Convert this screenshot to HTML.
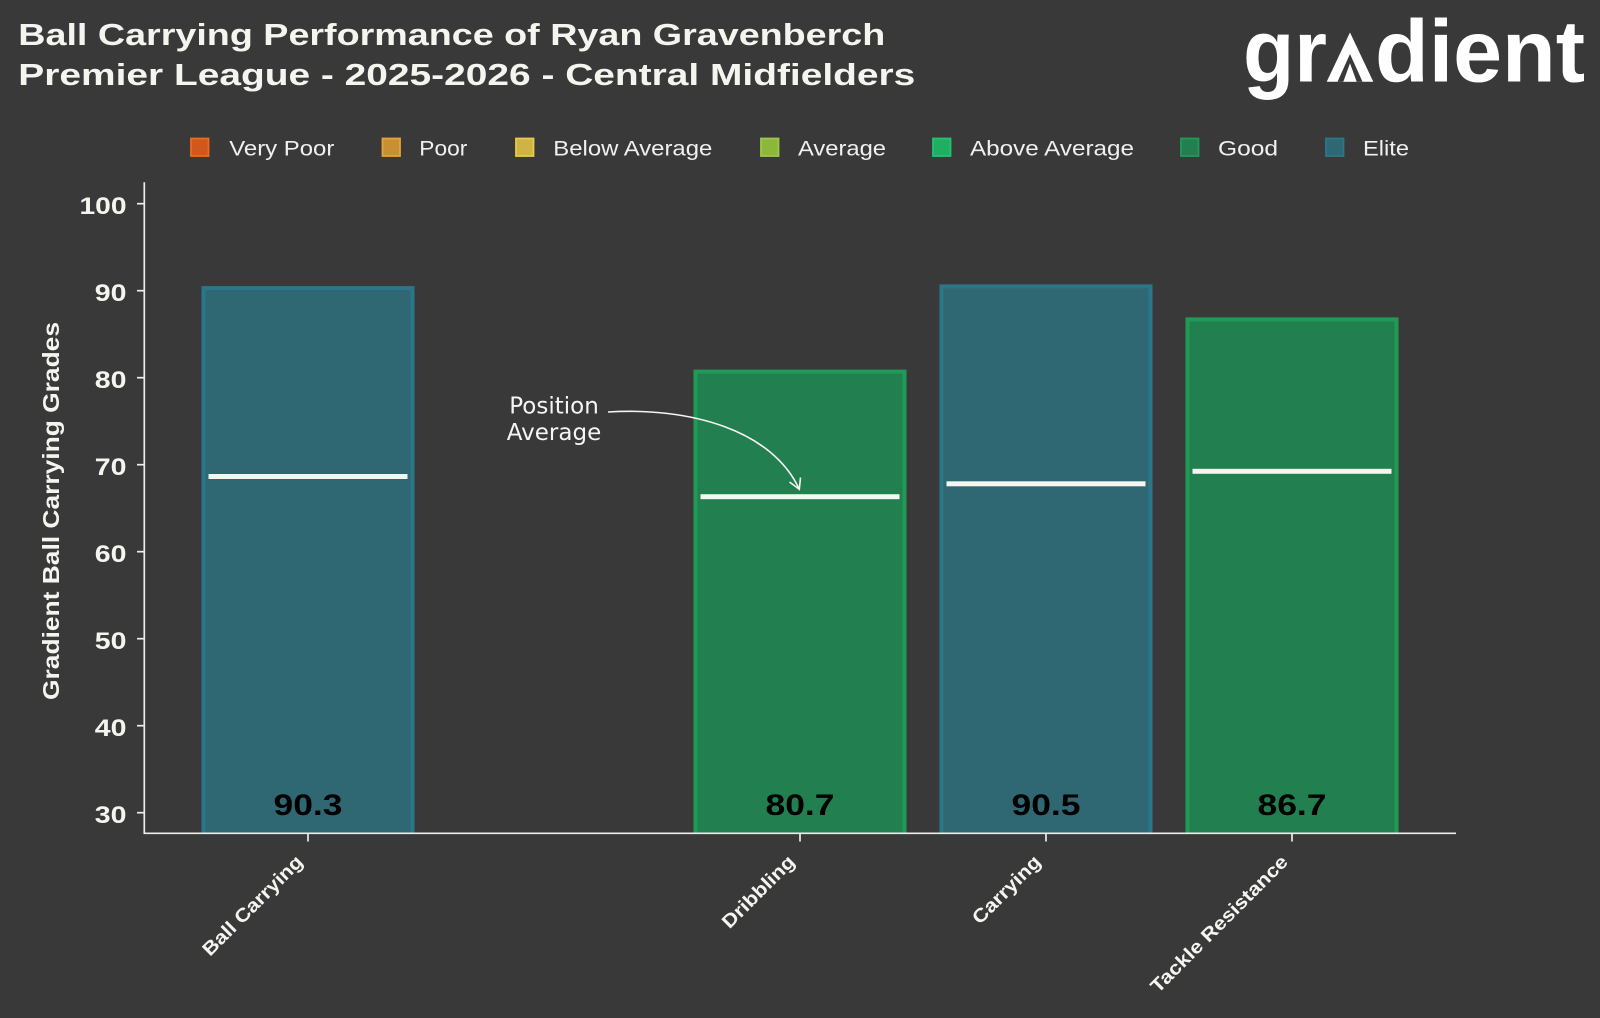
<!DOCTYPE html>
<html>
<head>
<meta charset="utf-8">
<style>
  html,body{margin:0;padding:0;background:#393939;}
  svg{display:block;}
</style>
</head>
<body>
<svg width="1600" height="1018" viewBox="0 0 1600 1018" xmlns="http://www.w3.org/2000/svg">
  <defs>
    <clipPath id="ax">
      <rect x="144" y="150" width="1312" height="683.3"/>
    </clipPath>
  </defs>
  <rect x="0" y="0" width="1600" height="1018" fill="#393939"/>

  <!-- Title -->
  <g font-family="'Liberation Sans', sans-serif" font-weight="bold" fill="#f5f5f0" font-size="30.5">
    <text x="18.3" y="45" textLength="867" lengthAdjust="spacingAndGlyphs">Ball Carrying Performance of Ryan Gravenberch</text>
    <text x="18.3" y="85" textLength="897" lengthAdjust="spacingAndGlyphs">Premier League - 2025-2026 - Central Midfielders</text>
  </g>

  <!-- Logo -->
  <g font-family="'Liberation Sans', sans-serif" font-weight="bold" fill="#ffffff" font-size="88">
    <text x="1243" y="81.7" textLength="84" lengthAdjust="spacingAndGlyphs">gr</text>
    <text x="1375" y="81.7" textLength="210" lengthAdjust="spacing">dient</text>
  </g>
  <polygon points="1326.7,81.7 1350,32.5 1373.3,81.7" fill="#ffffff"/>
  <polygon points="1337.5,81.7 1350,54 1362.5,81.7" fill="#393939"/>
  <polygon points="1343.3,81.7 1350,63.3 1356.7,81.7" fill="#ffffff"/>

  <!-- Legend -->
  <g font-family="'Liberation Sans', sans-serif" font-size="21" fill="#f0f0f0">
    <rect x="191" y="138.5" width="17.5" height="17.5" fill="#d0581c" stroke="#f06a18" stroke-width="1.8"/>
    <text x="229.3" y="155.3" textLength="105" lengthAdjust="spacingAndGlyphs">Very Poor</text>
    <rect x="382.5" y="138.5" width="17.5" height="17.5" fill="#c98f33" stroke="#e8a23a" stroke-width="1.8"/>
    <text x="419.3" y="155.3" textLength="48" lengthAdjust="spacingAndGlyphs">Poor</text>
    <rect x="516" y="138.5" width="17.5" height="17.5" fill="#cdb444" stroke="#ecc94a" stroke-width="1.8"/>
    <text x="553.3" y="155.3" textLength="159" lengthAdjust="spacingAndGlyphs">Below Average</text>
    <rect x="761" y="138.5" width="17.5" height="17.5" fill="#8db63c" stroke="#9dc843" stroke-width="1.8"/>
    <text x="798" y="155.3" textLength="88" lengthAdjust="spacingAndGlyphs">Average</text>
    <rect x="933" y="138.5" width="17.5" height="17.5" fill="#1fae62" stroke="#23c271" stroke-width="1.8"/>
    <text x="970" y="155.3" textLength="164" lengthAdjust="spacingAndGlyphs">Above Average</text>
    <rect x="1181" y="138.5" width="17.5" height="17.5" fill="#227f4f" stroke="#1f9b57" stroke-width="1.8"/>
    <text x="1218" y="155.3" textLength="60" lengthAdjust="spacingAndGlyphs">Good</text>
    <rect x="1326" y="138.5" width="17.5" height="17.5" fill="#2f6773" stroke="#2c7689" stroke-width="1.8"/>
    <text x="1363" y="155.3" textLength="46" lengthAdjust="spacingAndGlyphs">Elite</text>
  </g>

  <!-- Bars -->
  <g clip-path="url(#ax)">
    <rect x="203.5" y="288.1" width="209" height="560" fill="#2f6773" stroke="#2c7689" stroke-width="4"/>
    <rect x="695.5" y="371.6" width="209" height="480" fill="#227f4f" stroke="#1f9b57" stroke-width="4"/>
    <rect x="941.5" y="286.4" width="209" height="560" fill="#2f6773" stroke="#2c7689" stroke-width="4"/>
    <rect x="1187.5" y="319.4" width="209" height="530" fill="#227f4f" stroke="#1f9b57" stroke-width="4"/>
  </g>

  <!-- Average lines -->
  <g fill="#f4f6f0">
    <rect x="208.5" y="474" width="199" height="5"/>
    <rect x="700.5" y="494.2" width="199" height="5"/>
    <rect x="946.5" y="481.3" width="199" height="5"/>
    <rect x="1192.5" y="468.8" width="199" height="5"/>
  </g>

  <!-- Value labels -->
  <g font-family="'Liberation Sans', sans-serif" font-weight="bold" font-size="30" fill="#000000" text-anchor="middle">
    <text x="308" y="815" textLength="69" lengthAdjust="spacingAndGlyphs">90.3</text>
    <text x="800" y="815" textLength="69" lengthAdjust="spacingAndGlyphs">80.7</text>
    <text x="1046" y="815" textLength="69" lengthAdjust="spacingAndGlyphs">90.5</text>
    <text x="1292" y="815" textLength="69" lengthAdjust="spacingAndGlyphs">86.7</text>
  </g>

  <!-- Annotation -->
  <g font-family="'DejaVu Sans', 'Liberation Sans', sans-serif" font-size="23" fill="#f5f5f5" text-anchor="middle">
    <text x="554" y="413.3">Position</text>
    <text x="554" y="440">Average</text>
  </g>
  <path d="M608,412 C690,407 772,430 799.3,489.3" fill="none" stroke="#f5f5f5" stroke-width="1.6"/>
  <path d="M789.5,482 L799.3,489.3 L800.5,477.5" fill="none" stroke="#f5f5f5" stroke-width="1.6"/>

  <!-- Axes -->
  <g stroke="#ececec" stroke-width="1.7" fill="none">
    <line x1="144.3" y1="182.3" x2="144.3" y2="834"/>
    <line x1="143.5" y1="833.3" x2="1456" y2="833.3"/>
    <line x1="137" y1="203.7" x2="144.3" y2="203.7"/>
    <line x1="137" y1="290.7" x2="144.3" y2="290.7"/>
    <line x1="137" y1="377.7" x2="144.3" y2="377.7"/>
    <line x1="137" y1="464.7" x2="144.3" y2="464.7"/>
    <line x1="137" y1="551.7" x2="144.3" y2="551.7"/>
    <line x1="137" y1="638.7" x2="144.3" y2="638.7"/>
    <line x1="137" y1="725.7" x2="144.3" y2="725.7"/>
    <line x1="137" y1="812.7" x2="144.3" y2="812.7"/>
    <line x1="308" y1="833.3" x2="308" y2="841.5"/>
    <line x1="800" y1="833.3" x2="800" y2="841.5"/>
    <line x1="1046" y1="833.3" x2="1046" y2="841.5"/>
    <line x1="1292" y1="833.3" x2="1292" y2="841.5"/>
  </g>

  <!-- Y tick labels -->
  <g font-family="'Liberation Sans', sans-serif" font-weight="bold" font-size="24" fill="#f5f5f0" text-anchor="end">
    <text x="126.5" y="214" textLength="47" lengthAdjust="spacingAndGlyphs">100</text>
    <text x="126.5" y="301" textLength="31.7" lengthAdjust="spacingAndGlyphs">90</text>
    <text x="126.5" y="388" textLength="31.7" lengthAdjust="spacingAndGlyphs">80</text>
    <text x="126.5" y="475" textLength="31.7" lengthAdjust="spacingAndGlyphs">70</text>
    <text x="126.5" y="562" textLength="31.7" lengthAdjust="spacingAndGlyphs">60</text>
    <text x="126.5" y="649" textLength="31.7" lengthAdjust="spacingAndGlyphs">50</text>
    <text x="126.5" y="736" textLength="31.7" lengthAdjust="spacingAndGlyphs">40</text>
    <text x="126.5" y="823" textLength="31.7" lengthAdjust="spacingAndGlyphs">30</text>
  </g>

  <!-- Y axis label -->
  <text transform="translate(58.8,511) rotate(-90)" font-family="'Liberation Sans', sans-serif" font-weight="bold" font-size="23.5" fill="#f5f5f0" text-anchor="middle" textLength="378" lengthAdjust="spacingAndGlyphs">Gradient Ball Carrying Grades</text>

  <!-- X tick labels -->
  <g font-family="'Liberation Sans', sans-serif" font-weight="bold" font-size="19" fill="#f5f5f0" text-anchor="end">
    <text transform="translate(304,863) rotate(-45)" textLength="133" lengthAdjust="spacingAndGlyphs">Ball Carrying</text>
    <text transform="translate(796,863) rotate(-45)" textLength="94" lengthAdjust="spacingAndGlyphs">Dribbling</text>
    <text transform="translate(1042,863) rotate(-45)" textLength="88" lengthAdjust="spacingAndGlyphs">Carrying</text>
    <text transform="translate(1289,863) rotate(-45)" textLength="185" lengthAdjust="spacingAndGlyphs">Tackle Resistance</text>
  </g>
</svg>
</body>
</html>
